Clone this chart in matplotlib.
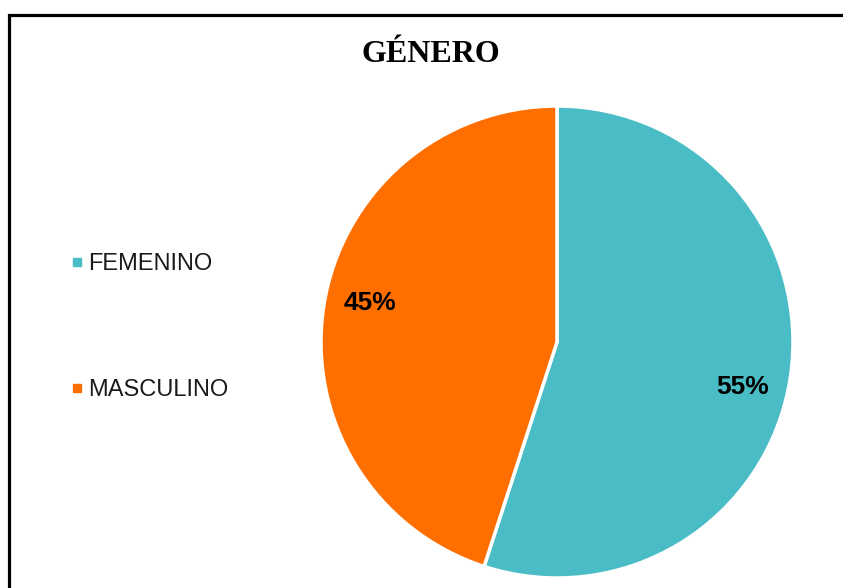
import numpy as np
import matplotlib.pyplot as plt
from matplotlib.lines import Line2D
from matplotlib.patches import Rectangle

plt.rcParams["font.family"] = ["Liberation Sans", "DejaVu Sans"]

# datos del gráfico
categorias = ["FEMENINO", "MASCULINO"]
porcentajes = [55, 45]
colores = ["#4ABCC6", "#FF6F00"]
titulo = "GÉNERO"

W, H = 843, 588
fig = plt.figure(figsize=(W / 100, H / 100), dpi=100)

# marco del gráfico (se sale por la derecha y abajo)
fig.patches.append(Rectangle((9 / W, -0.1), 2.0, (H - 15) / H + 0.1,
                             transform=fig.transFigure, fill=False,
                             edgecolor="black", linewidth=2.3))

# pastel
cx, cy, r = 557, 342, 236
ax = fig.add_axes([(cx - r) / W, (H - cy - r) / H, 2 * r / W, 2 * r / H])
wedges, _, autotexts = ax.pie(
    porcentajes, colors=colores, startangle=90, counterclock=False,
    autopct="%d%%", pctdistance=0.81,
    wedgeprops=dict(edgecolor="white", linewidth=2.5),
    textprops=dict(fontsize=19, fontweight="bold", color="black"))
ax.set_xlim(-1, 1)
ax.set_ylim(-1, 1)

# etiquetas en "mejor ajuste" como en Excel
ang_etiquetas = [-13.6, 168.1]
for t, a in zip(autotexts, ang_etiquetas):
    t.set_position((0.81 * np.cos(np.radians(a)), 0.81 * np.sin(np.radians(a))))

fig.text(431 / W, 1 - 54 / H, titulo, ha="center", va="center",
         fontsize=23, fontweight="bold", family="Liberation Serif")

# leyenda
handles = [Line2D([], [], marker="s", linestyle="none", markersize=6,
                  markerfacecolor=c, markeredgecolor=c) for c in colores]
fig.legend(handles, categorias, loc="upper left",
           bbox_to_anchor=(46 / W, 1 - 232 / H), frameon=False,
           fontsize=17, labelspacing=4.4, handletextpad=0.1,
           handlelength=0.8, labelcolor="#1a1a1a")

plt.savefig("out.png", dpi=100)
